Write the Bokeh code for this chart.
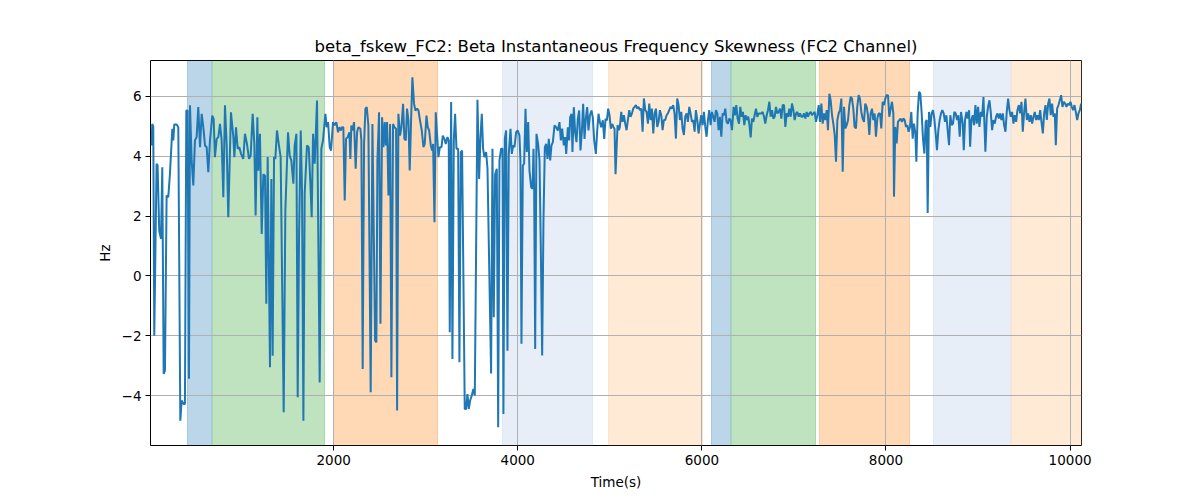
from bokeh.plotting import figure
from bokeh.models import ColumnDataSource, Range1d, FixedTicker, CustomJSTickFormatter
from bokeh.embed import file_html
from bokeh.resources import INLINE

# signal samples (time in s, value in Hz)
time_s = [
    22, 29, 40, 51, 76, 87, 105, 124, 138, 153,
    167, 185, 203, 221, 247, 258, 268, 294, 312, 334,
    348, 370, 384, 399, 413, 428, 439, 457, 475, 493,
    511, 529, 548, 566, 584, 602, 620, 638, 656, 681,
    696, 710, 729, 747, 765, 783, 801, 819, 837, 855,
    884, 910, 921, 939, 957, 975, 993, 1018, 1036, 1058,
    1080, 1098, 1120, 1138, 1152, 1171, 1181, 1199, 1218, 1236,
    1254,
    1268, 1283, 1308, 1323, 1337, 1352, 1366, 1384, 1403, 1424,
    1457, 1475, 1504, 1522, 1540, 1562, 1576, 1595, 1609, 1624,
    1642, 1656, 1671, 1685, 1710, 1729, 1747, 1761, 1776, 1794,
    1819, 1848, 1866, 1884, 1910, 1924, 1939, 1957, 1971, 1993,
    2011, 2029, 2047, 2062, 2076, 2091, 2105, 2120, 2134, 2152,
    2171, 2181, 2192, 2207, 2221, 2239, 2254, 2268, 2290, 2301,
    2315, 2330, 2345, 2359, 2377, 2402, 2421, 2450, 2464, 2475,
    2493, 2508, 2526,
    2540, 2555, 2566, 2580, 2595, 2613, 2627, 2645, 2660, 2678,
    2689, 2703, 2721, 2736, 2754, 2768, 2783, 2797, 2812, 2826,
    2841, 2855, 2873, 2888, 2906, 2921, 2935, 2957, 2975, 2989,
    3008, 3022, 3037, 3055, 3069, 3080, 3095, 3109, 3123, 3138,
    3153, 3171, 3185, 3203, 3218, 3236, 3250, 3261, 3276, 3290,
    3305, 3319, 3334, 3352, 3366, 3381, 3395, 3424, 3439, 3453,
    3468, 3482, 3500, 3518, 3533, 3562, 3580, 3594, 3609, 3623,
    3638, 3656, 3671, 3710, 3725, 3739, 3754, 3772, 3787, 3801,
    3819, 3834,
    3844, 3859, 3873, 3888, 3902, 3921, 3935, 3950, 3964, 3982,
    4000, 4018, 4029, 4040, 4055, 4069, 4084, 4098, 4113, 4127,
    4145, 4160, 4171, 4178, 4189, 4203, 4221, 4236, 4250, 4265,
    4279, 4294, 4308, 4323, 4337, 4352, 4366, 4381, 4399, 4417,
    4435, 4453, 4468, 4482, 4500, 4515, 4526, 4544, 4558, 4569,
    4584, 4594, 4609, 4623, 4638, 4652, 4667, 4681, 4696, 4710,
    4725, 4739, 4754, 4768, 4783, 4801, 4815, 4830, 4848, 4863,
    4877, 4892, 4906, 4924, 4939, 4953, 4968, 4982, 4997, 5011,
    5026, 5040, 5051, 5062,
    5084, 5098, 5109, 5124, 5138, 5153, 5167, 5182, 5196, 5211,
    5225, 5240, 5254, 5269, 5283, 5298, 5312, 5327, 5341, 5356,
    5370, 5385, 5399, 5414, 5428, 5443, 5457, 5472, 5486, 5501,
    5515, 5530, 5544, 5559, 5573, 5587, 5602, 5616, 5631, 5645,
    5660, 5674, 5689, 5703, 5718, 5732, 5747, 5761, 5776, 5790,
    5805, 5819, 5834, 5848, 5863, 5877, 5892, 5906, 5921, 5935,
    5950, 5964, 5979, 5993, 6008, 6022, 6037, 6051, 6066, 6080,
    6095, 6109, 6124, 6138, 6153, 6167, 6182, 6196, 6211, 6225,
    6240, 6254, 6269, 6283, 6298, 6312, 6327,
    6345, 6359, 6374, 6388, 6403, 6417, 6432, 6446, 6461, 6475,
    6490, 6504, 6519, 6530, 6544, 6559, 6573, 6588, 6602, 6617,
    6631, 6646, 6660, 6675, 6689, 6704, 6718, 6733, 6747, 6762,
    6776, 6791, 6805, 6820, 6834, 6849, 6863, 6878, 6892, 6907,
    6921, 6936, 6950, 6965, 6979, 6994, 7008, 7023, 7037, 7052,
    7066, 7080, 7095, 7109, 7124, 7138, 7153, 7167, 7182, 7196,
    7211, 7225, 7240, 7254, 7269, 7283, 7298, 7312, 7327, 7341,
    7356, 7370, 7385, 7399, 7414, 7428, 7443, 7457, 7472, 7486,
    7501, 7515, 7530, 7544, 7559, 7573, 7588, 7602,
    7616, 7630, 7645, 7659, 7674, 7688, 7703, 7717, 7732, 7746,
    7761, 7775, 7790, 7804, 7819, 7833, 7848, 7862, 7877, 7891,
    7906, 7920, 7935, 7949, 7964, 7978, 7993, 8007, 8022, 8036,
    8051, 8065, 8080, 8087, 8101, 8116, 8130, 8145, 8159, 8174,
    8188, 8203, 8217, 8232, 8246, 8261, 8275, 8290, 8304, 8319,
    8330, 8344, 8359, 8373, 8388, 8402, 8417, 8431, 8442, 8453,
    8467, 8482, 8496, 8511, 8525, 8540, 8554, 8569, 8583, 8598,
    8612, 8627, 8641, 8656, 8670, 8685, 8699, 8714, 8728, 8743,
    8757, 8772, 8786, 8801, 8815,
    8834, 8845, 8859, 8874, 8888, 8903, 8914, 8928, 8943, 8957,
    8972, 8986, 9001, 9015, 9030, 9044, 9059, 9080, 9095, 9109,
    9124, 9138, 9153, 9167, 9182, 9196, 9211, 9225, 9240, 9254,
    9269, 9283, 9298, 9312, 9327, 9341, 9356, 9370, 9385, 9399,
    9414, 9428, 9443, 9457, 9472, 9486, 9501, 9515, 9530, 9544,
    9559, 9573, 9588, 9602, 9617, 9631, 9646, 9660, 9675, 9689,
    9704, 9718, 9733, 9747, 9762, 9776, 9790, 9805, 9819, 9834,
    9845, 9859, 9874, 9888, 9903, 9917, 9932, 9946, 9961, 9975,
    9990, 10004, 10019, 10033, 10048, 10062, 10077, 10091, 10106, 10120,
]

skew_hz = [
    4.36, 5.08, 5.0, -2.0, 3.75, 3.7, 1.5, 1.24, 3.63, -3.28,
    -3.17, 2.69, 2.63, 3.4, 4.92, 4.53, 5.06, 5.06, 4.97, -4.84,
    -4.17, -4.28, -4.28, 5.53, 5.53, -3.44, 5.7, 3.86, 3.02, 4.53,
    4.64, 5.64, 4.3, 5.42, 4.97, 4.36, 4.3, 3.47, 4.53, 5.36,
    5.25, 3.97, 4.58, 4.64, 5.08, 4.53, 2.63, 5.7, 4.41, 1.96,
    5.47, 4.64, 3.97, 4.97, 4.25, 4.3, 4.08, 3.91, 4.75, 4.41,
    3.91, 4.02, 5.42, 4.41, 2.02, 5.3, 3.52, 4.75, 1.4, 3.4,
    3.35,
    -0.93, 3.97, -3.05, 3.24, -2.67, 3.97, 3.91, 4.86, 4.41, 3.97,
    -4.56, 2.19, 4.8, 4.02, 3.86, 3.08, 4.36, 4.75, -4.06, 1.4,
    4.86, 2.85, -4.84, 2.74, 4.36, 4.3, 3.08, 1.96, 4.75, 3.75,
    5.86, -3.56, 4.25, 4.53, 5.42, 4.97, 5.14, 4.3, 4.19, 5.14,
    5.03, 5.14, 4.8, 4.97, 4.86, 4.97, 4.97, 2.52, 4.58, 4.64,
    4.8, 3.91, 5.03, 4.86, 5.14, 3.58, 4.8, 4.97, 4.92, 4.53,
    -3.11, 4.41, 5.59, 5.64, 5.03, -3.89, 5.08, -2.16, -2.22, 3.86,
    5.47, -1.6, 5.3,
    4.3, 5.14, 4.36, 5.14, 2.69, 5.08, -3.39, 5.08, 4.97, 4.92,
    -4.5, 5.42, 4.69, 4.97, 5.75, 4.58, 4.53, 5.59, 5.2, 3.52,
    5.2, 6.64, 5.75, 5.53, 5.59, 5.53, 5.25, 4.86, 4.3, 4.41,
    5.36, 4.97, 4.86, 4.36, 4.19, 4.41, 1.79, 5.47, 4.75, 3.97,
    4.3, 4.3, 4.69, 4.58, 4.41, 4.64, 4.53, -1.88, 5.81, -2.78,
    4.53, 5.42, 4.25, 4.25, -2.89, 4.14, 4.19, -4.45, -4.45, -3.95,
    -4.45, -4.17, -4.0, -3.78, -4.0, 5.89, 3.24, 4.58, 5.42, 4.25,
    3.97, 4.14, 3.58, -3.26, 4.25, -1.38, 3.4, 3.58, -5.06, 3.86,
    4.25, 4.25,
    -4.62, 4.58, 4.86, -2.5, 4.08, 4.92, 4.08, 4.36, 4.3, 4.8,
    4.86, 4.69, 3.86, -2.27, 3.69, 3.75, 5.59, 4.14, 5.14, 3.52,
    2.97, 2.91, 4.25, 2.85, -2.44, 4.75, 4.41, 3.86, 0.96, -2.66,
    1.85, 4.3, 4.41, 3.91, 4.58, 3.86, 4.36, 4.47, 5.03, 4.97,
    4.86, 5.14, 4.53, 4.92, 4.36, 4.64, 4.08, 4.97, 4.53, 5.3,
    5.42, 4.14, 5.64, 4.8, 4.47, 5.25, 5.53, 4.19, 4.8, 5.75,
    4.58, 5.25, 5.64, 4.86, 5.36, 5.53, 5.3, 4.53, 4.08, 4.86,
    5.42, 5.14, 4.97, 5.2, 4.58, 5.25, 5.2, 5.59, 5.36, 4.92,
    5.08, 4.97, 4.92, 3.4,
    5.04, 4.87, 4.98, 5.48, 5.15, 5.37, 5.09, 4.87, 5.21, 5.54,
    5.32, 5.43, 5.59, 5.65, 5.71, 5.59, 5.65, 5.54, 5.59, 4.82,
    5.93, 5.54, 5.48, 5.09, 5.76, 5.21, 5.59, 4.76, 5.43, 5.59,
    4.98, 5.15, 5.54, 5.37, 4.87, 5.21, 5.21, 5.37, 5.43, 5.54,
    5.65, 5.59, 5.71, 5.43, 4.59, 5.93, 5.71, 5.21, 5.48, 4.93,
    4.71, 5.32, 5.43, 5.15, 5.65, 5.43, 5.15, 5.21, 4.82, 5.54,
    5.21, 4.76, 5.09, 5.37, 5.04, 5.48, 4.98, 4.65, 5.21, 5.54,
    5.04, 5.48, 5.32, 5.15, 5.54, 5.43, 4.87, 5.32, 4.65, 5.43,
    5.37, 5.59, 5.15, 5.09, 5.26, 5.21, 4.87,
    5.65, 5.37, 5.71, 5.26, 5.09, 5.65, 5.32, 5.48, 5.04, 5.37,
    5.21, 5.32, 4.98, 4.63, 5.26, 5.15, 5.37, 5.59, 5.32, 5.43,
    5.43, 5.43, 5.48, 5.32, 5.09, 5.37, 5.54, 5.82, 5.32, 5.54,
    5.26, 5.32, 5.65, 5.43, 5.48, 5.59, 5.26, 5.71, 5.71, 4.98,
    5.43, 5.32, 5.59, 5.32, 5.76, 5.54, 5.21, 5.43, 5.48, 5.32,
    5.43, 5.32, 5.32, 5.43, 5.26, 5.48, 5.32, 5.43, 5.48, 5.37,
    5.43, 5.48, 5.15, 5.37, 5.71, 5.15, 5.76, 5.09, 5.43, 5.21,
    5.54, 4.87, 6.09, 5.87, 5.37, 5.09, 4.71, 3.82, 5.21, 5.43,
    5.54, 5.93, 3.48, 5.65, 4.93, 5.04, 5.21, 5.71,
    5.98, 5.93, 5.59, 4.98, 4.93, 5.65, 6.04, 5.93, 5.48, 5.26,
    5.15, 5.76, 5.65, 5.37, 4.71, 5.43, 5.59, 5.21, 5.43, 4.65,
    5.26, 5.43, 5.43, 4.93, 5.82, 5.71, 5.93, 6.04, 6.04, 5.32,
    5.59, 5.82, 5.43, 2.65, 4.98, 4.43, 5.15, 5.21, 5.26, 5.15,
    5.26, 5.21, 4.98, 5.04, 4.82, 4.98, 5.48, 4.59, 5.09, 4.76,
    3.82, 5.43, 6.15, 6.09, 5.43, 4.59, 4.09, 5.15, 5.21, 2.1,
    5.48, 4.98, 5.43, 5.54, 5.26, 4.76, 4.2, 4.87, 5.21, 5.43,
    5.54, 5.43, 5.15, 5.37, 4.87, 4.37, 5.37, 5.04, 5.09, 5.48,
    5.43, 5.21, 5.37, 4.65, 5.48,
    5.09, 4.2, 5.21, 5.48, 5.26, 5.54, 4.32, 5.21, 5.37, 5.04,
    5.71, 5.09, 5.65, 4.98, 5.48, 5.32, 5.98, 4.15, 5.32, 5.65,
    5.87, 5.48, 4.87, 5.21, 5.09, 5.32, 5.43, 5.26, 5.43, 5.21,
    5.43, 5.04, 4.82, 5.48, 5.93, 5.54, 5.32, 5.48, 5.09, 5.37,
    5.15, 5.54, 5.71, 5.43, 5.82, 4.82, 5.48, 5.93, 5.21, 5.43,
    5.15, 5.37, 5.09, 5.32, 5.48, 5.21, 5.37, 5.21, 5.54, 5.15,
    4.76, 5.43, 5.71, 5.21, 5.76, 5.93, 5.37, 5.76, 5.32, 5.43,
    4.37, 5.59, 5.71, 5.87, 6.04, 5.65, 5.82, 5.76, 5.65, 5.76,
    5.71, 5.82, 5.65, 5.54, 5.71, 5.48, 5.21, 5.43, 5.54, 5.76,
]

# shaded intervals
span_start = [410, 682, 2000, 3834, 4986, 6105, 6323, 7279, 8518, 9366]
span_end = [671, 1896, 3124, 4812, 6008, 6309, 7236, 8254, 9348, 10124]
span_color = ["#1f77b4", "#2ca02c", "#ff7f0e", "#aec7e8", "#ffbb78",
              "#1f77b4", "#2ca02c", "#ff7f0e", "#aec7e8", "#ffbb78"]

x_ticks = [2000, 4000, 6000, 8000, 10000]
y_ticks = [-4, -2, 0, 2, 4, 6]

font = "DejaVu Sans"

p = figure(
    width=1200,
    height=500,
    title="beta_fskew_FC2: Beta Instantaneous Frequency Skewness (FC2 Channel)",
    x_range=Range1d(10, 10124),
    y_range=Range1d(-5.67, 7.20),
    x_axis_label="Time(s)",
    y_axis_label="Hz",
    output_backend="svg",
    toolbar_location=None,
    min_border_left=150,
    min_border_right=119,
    min_border_top=60,
    min_border_bottom=55,
)

p.title.align = "center"
p.title.text_font = font
p.title.text_font_size = "16.5px"
p.title.text_font_style = "normal"
p.title.text_color = "black"
p.title.standoff = 9

spans = ColumnDataSource(dict(x0=span_start, x1=span_end, color=span_color))
p.vstrip(x0="x0", x1="x1", source=spans, fill_color="color", fill_alpha=0.3,
         line_color="color", line_alpha=0.3, line_width=1, level="image")

p.line(time_s, skew_hz, line_color="#1f77b4", line_width=2)

p.xaxis.ticker = FixedTicker(ticks=x_ticks)
p.yaxis.ticker = FixedTicker(ticks=y_ticks)
p.xgrid.ticker = FixedTicker(ticks=x_ticks)
p.ygrid.ticker = FixedTicker(ticks=y_ticks)
p.yaxis.formatter = CustomJSTickFormatter(
    code="return tick < 0 ? '\u2212' + Math.abs(tick) : tick.toString();")

for ax in (p.xaxis, p.yaxis):
    ax.axis_line_color = None
    ax.major_tick_line_color = "black"
    ax.major_tick_line_width = 1
    ax.major_tick_out = 5
    ax.major_tick_in = 0
    ax.minor_tick_line_color = None
    ax.major_label_text_font = font
    ax.major_label_text_font_size = "13.5px"
    ax.major_label_text_color = "black"
    ax.axis_label_text_font = font
    ax.axis_label_text_font_size = "13.5px"
    ax.axis_label_text_font_style = "normal"
    ax.axis_label_text_color = "black"
    ax.major_label_standoff = 4
    ax.axis_label_standoff = 6

p.grid.grid_line_color = "#b0b0b0"
p.grid.grid_line_width = 1
p.outline_line_color = "black"
p.outline_line_width = 1
p.background_fill_color = "white"
p.border_fill_color = "white"

open("out.html", "w").write(file_html(p, INLINE))
